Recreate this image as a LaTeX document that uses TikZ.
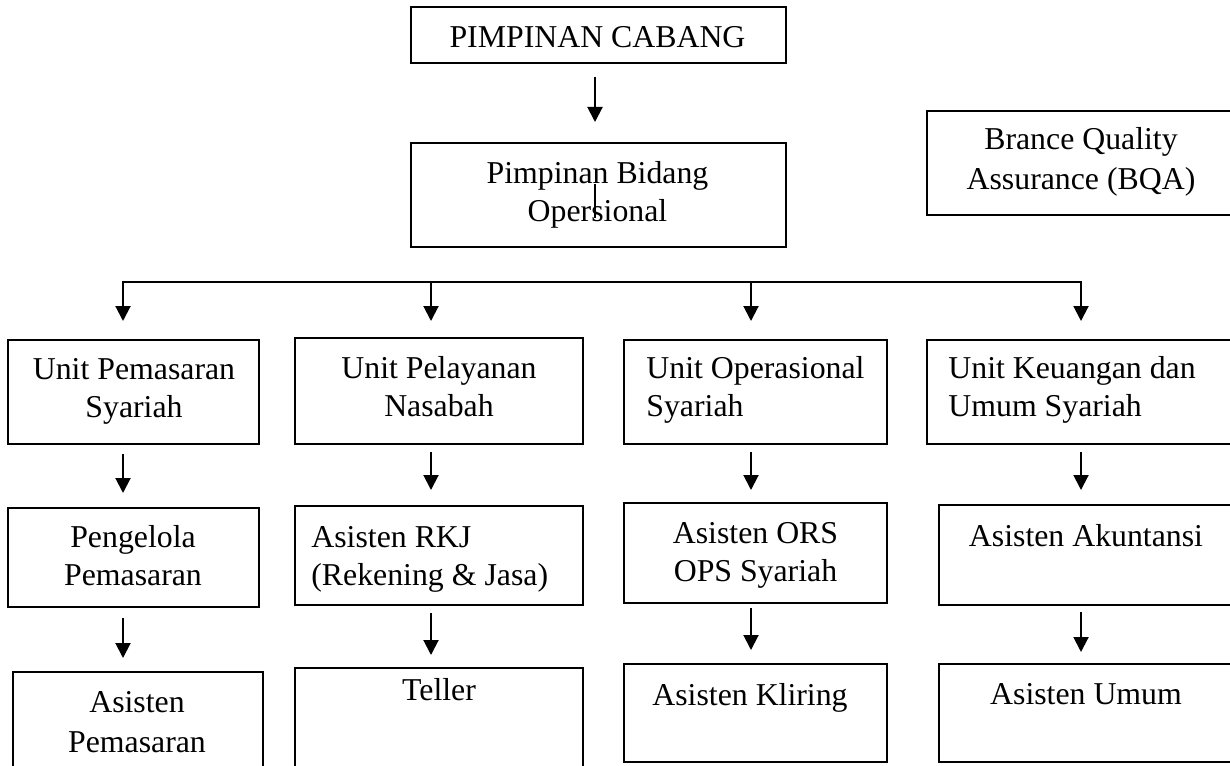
\documentclass[tikz,border=0pt]{standalone}
\usepackage{fontspec}
\setmainfont{Liberation Serif}
\usetikzlibrary{arrows.meta}
\newcommand\fsA{\fontsize{15.9pt}{19pt}\selectfont}
\newcommand\fsB{\fontsize{15.9pt}{20pt}\selectfont}
\begin{document}
\begin{tikzpicture}[x=0.5pt,y=-0.5pt,
  box/.style={draw, line width=0.9pt, inner sep=0pt, outer sep=0pt},
  txt/.style={font=\fsA, inner sep=0pt, anchor=north, align=center, yshift=13.3pt},
  txtl/.style={txt, anchor=north west, align=left},
  txtb/.style={font=\fsB, inner sep=0pt, anchor=north, align=center, yshift=14pt},
  link/.style={line width=1pt},
  arr/.style={line width=1pt, -{Triangle[length=7.5pt,width=7.5pt]}},
  arrtwo/.style={line width=1pt, {Triangle[length=7.5pt,width=7.5pt]}-{Triangle[length=7.5pt,width=7.5pt]}},
]
\fill[white] (0,0) rectangle (1230,765);
\useasboundingbox (0,0) rectangle (1230,765);

% boxes
\node[box, minimum width=187.5pt, minimum height=28pt] (pc)  at (598.5,35) {};
\node[box, minimum width=187.5pt, minimum height=52pt] (pbo) at (598.5,195) {};
\node[box, minimum width=156.5pt, minimum height=52pt] (bqa) at (1083.5,163) {};

\node[box, minimum width=125.5pt, minimum height=52pt] (u1) at (133.5,392) {};
\node[box, minimum width=144pt,   minimum height=53pt] (u2) at (439,391) {};
\node[box, minimum width=131.5pt, minimum height=52pt] (u3) at (755.5,392) {};
\node[box, minimum width=156.5pt, minimum height=52pt] (u4) at (1083.5,392) {};

\node[box, minimum width=125.5pt, minimum height=49.5pt] (p1) at (133.5,557.5) {};
\node[box, minimum width=144pt,   minimum height=49.5pt] (p2) at (439,555.5) {};
\node[box, minimum width=131.5pt, minimum height=50pt]   (p3) at (755.5,553) {};
\node[box, minimum width=150.5pt, minimum height=50pt]   (p4) at (1089.5,555) {};

\node[box, minimum width=125pt,   minimum height=59pt] (a1) at (138,731) {};
\node[box, minimum width=144pt,   minimum height=61pt] (a2) at (439,729) {};
\node[box, minimum width=131.5pt, minimum height=49pt] (a3) at (755.5,713) {};
\node[box, minimum width=150.5pt, minimum height=49pt] (a4) at (1089.5,713) {};

% texts
\node[txt]  (tpc)  at (597.5,47)  {\strut PIMPINAN CABANG};
\node[txt]  (tpbo) at (597.5,183) {\strut Pimpinan Bidang\\Opersional};
\node[txtb] (tbqa) at (1081,149)  {\strut Brance Quality\\Assurance (BQA)};

\node[txt]  (tu1) at (134,379) {\strut Unit Pemasaran\\Syariah};
\node[txt]  (tu2) at (439,378) {\strut Unit Pelayanan\\Nasabah};
\node[txtl] (tu3) at (646,378) {\strut Unit Operasional\\Syariah};
\node[txtl] (tu4) at (948,378) {\strut Unit Keuangan dan\\Umum Syariah};

\node[txt]  (tp1) at (133,547)    {\strut Pengelola\\Pemasaran};
\node[txtl] (tp2) at (311,547)    {\strut Asisten RKJ\\(Rekening \& Jasa)};
\node[txt]  (tp3) at (755.5,543)  {\strut Asisten ORS\\OPS Syariah};
\node[txt]  (tp4) at (1086,546)   {\strut Asisten Akuntansi};

\node[txtb] (ta1) at (137,712)  {\strut Asisten\\Pemasaran};
\node[txt]  (ta2) at (439,700)  {\strut Teller};
\node[txt]  (ta3) at (750,705)  {\strut Asisten Kliring};
\node[txt]  (ta4) at (1086,704) {\strut Asisten Umum};

% connector coordinates
\coordinate (c0s) at (595,77);
\coordinate (c0e) at (595,122);
\coordinate (m0s) at (595,184);
\coordinate (m0e) at (595,218);

\coordinate (h1) at (123,282);
\coordinate (h2) at (431,282);
\coordinate (h3) at (751,282);
\coordinate (h4) at (1081,282);
\coordinate (t1) at (123,321);
\coordinate (t2) at (431,321);
\coordinate (t3) at (751,321);
\coordinate (t4) at (1081,321);

\coordinate (r1s) at (123,454);  \coordinate (r1e) at (123,493);
\coordinate (r2s) at (431,452);  \coordinate (r2e) at (431,490);
\coordinate (r3s) at (751,452);  \coordinate (r3e) at (751,490);
\coordinate (r4s) at (1081,452); \coordinate (r4e) at (1081,490);

\coordinate (s1s) at (123,618);  \coordinate (s1e) at (123,658);
\coordinate (s2s) at (431,613);  \coordinate (s2e) at (431,655);
\coordinate (s3s) at (751,608);  \coordinate (s3e) at (751,650);
\coordinate (s4s) at (1081,612); \coordinate (s4e) at (1081,652);

% connectors
\draw[arr] (c0s) -- (c0e);
\draw[link] (m0s) -- (m0e);

\draw[arrtwo] (t1) -- (h1) -- (h4) -- (t4);
\draw[arr] (h2) -- (t2);
\draw[arr] (h3) -- (t3);

\draw[arr] (r1s) -- (r1e);
\draw[arr] (r2s) -- (r2e);
\draw[arr] (r3s) -- (r3e);
\draw[arr] (r4s) -- (r4e);

\draw[arr] (s1s) -- (s1e);
\draw[arr] (s2s) -- (s2e);
\draw[arr] (s3s) -- (s3e);
\draw[arr] (s4s) -- (s4e);
\end{tikzpicture}
\end{document}
